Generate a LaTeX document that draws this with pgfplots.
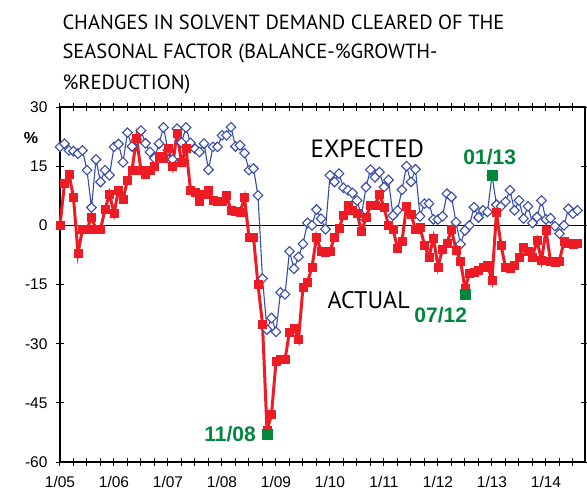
\documentclass[border=0pt]{standalone}
\usepackage{fontspec}
\setmainfont{Liberation Sans}
\newfontfamily\titlefont{PT Sans}
\usepackage{pgfplots}
\pgfplotsset{compat=1.18}
\definecolor{redc}{RGB}{237,28,36}
\definecolor{bluec}{RGB}{55,75,170}
\definecolor{greenc}{RGB}{0,135,60}
\pgfplotstableread{
i v
0 0
1 10.6
2 13
3 7
4 -7
5 -1
6 -1
7 2
8 -1
9 -1
10 4
11 8
12 3
13 9
14 6.5
15 11.5
16 14
17 22
18 14
19 13
20 14
21 15
22 17.5
23 17
24 19.5
25 15
26 23.3
27 16
28 19.5
29 9
30 8.5
31 6
32 8
33 9
34 6.3
35 6
36 6
37 7.6
38 3.8
39 3.5
40 3.3
41 7
42 -3
43 -3
44 -15
45 -25
46 -52
47 -48
48 -34.5
49 -34
50 -34
51 -27
52 -26
53 -29
54 -15.7
55 -14.4
56 -10.6
57 -3
58 -6.5
59 -6.8
60 -6.5
61 -3
62 -0.8
63 2.5
64 5
65 3.8
66 3
67 -1.5
68 2
69 5
70 5
71 8
72 4.5
73 0
74 -1
75 -5.7
76 -4
77 4.8
78 2.8
79 -1
80 -0.5
81 -5
82 -8
83 -3.2
84 -10.6
85 -6
86 -4.5
87 -1
88 -6.3
89 -9
90 -16
91 -12.2
92 -12
93 -11.5
94 -10.5
95 -10
96 -13.9
97 3.3
98 -5
99 -10.6
100 -11
101 -10
102 -8
103 -5.5
104 -6.5
105 -8
106 -3.8
107 -8.9
108 -1.3
109 -9
110 -9.3
111 -9
112 -4
113 -4.6
114 -4.8
115 -4.6
}\actual
\pgfplotstableread{
i v
0 19.9
1 20.7
2 19
3 18.8
4 18.2
5 19
6 14
7 4.5
8 16.7
9 11
10 14
11 12.7
12 19.9
13 20.6
14 16
15 23.5
16 20
17 21.7
18 24
19 20.8
20 18.6
21 17
22 20.7
23 24.8
24 19
25 16.7
26 24.5
27 21
28 24.8
29 20.9
30 19.4
31 18.6
32 20.7
33 14.1
34 19.9
35 19.9
36 22.8
37 22.8
38 24.9
39 20
40 20.3
41 18.3
42 14
43 14.4
44 7.6
45 -13.5
46 -26.4
47 -23.5
48 -27
49 -17
50 -17.5
51 -6.6
52 -11
53 -8
54 -4.7
55 0.6
56 0
57 4
58 1.7
59 -1
60 12.7
61 11
62 13.1
63 9.5
64 8.9
65 8.2
66 6.3
67 2.5
68 9.7
69 14.1
70 12.2
71 13.5
72 9.7
73 11.5
74 2.5
75 3.8
76 9
77 15
78 11
79 14.2
80 2.3
81 5.5
82 5.5
83 1.5
84 1.5
85 2.3
86 8
87 7.2
88 0.8
89 -4.8
90 -1.3
91 0
92 4.6
93 2
94 3.8
95 3.4
96 12.7
97 5.2
98 4.8
99 6
100 8.9
101 3.8
102 6.3
103 1.7
104 4.8
105 0.6
106 2.1
107 6.3
108 1.5
109 1.8
110 -0.2
111 -2.1
112 0
113 4.2
114 3
115 3.8
}\expected
\begin{document}
\begin{tikzpicture}
\useasboundingbox (-60pt,-34pt) rectangle (527pt,462pt);
\begin{axis}[
  scale only axis, width=525pt, height=355pt,
  xmin=0, xmax=116.67, ymin=-60, ymax=30,
  ytick={-60,-45,-30,-15,0,15,30},
  yticklabels={-60,-45,-30,-15,0,15,30},
  xtick={0,12,24,36,48,60,72,84,96,108},
  xticklabels={1/05,1/06,1/07,1/08,1/09,1/10,1/11,1/12,1/13,1/14},
  minor xtick={3,6,9,15,18,21,27,30,33,39,42,45,51,54,57,63,66,69,75,78,81,87,90,93,99,102,105,111,114},
  tick align=center,
  major tick length=8pt, minor tick length=8pt,
  every tick/.style={black, line width=1pt},
  axis line style={line width=1.2pt},
  ticklabel style={font=\fontsize{15.5}{15.5}\selectfont},
  yticklabel style={xshift=-5pt},
  xticklabel style={yshift=-7pt},
  clip=false,
]
\draw[black, line width=1pt] (axis cs:0,0) -- (axis cs:116.67,0);
\addplot[bluec, line width=1.1pt, mark=square*, mark size=3.4pt,
  mark options={fill=white, draw=bluec, line width=1.1pt, rotate=45}] table[x=i,y=v] {\expected};
\addplot[redc, line width=3pt, mark=square*, mark size=4pt,
  mark options={fill=redc, draw=redc, line width=0.5pt}] table[x=i,y=v] {\actual};
\addplot[only marks, mark=square*, mark size=5.2pt, color=greenc,
  mark options={fill=greenc, draw=greenc}] coordinates {(46,-53) (90,-17.5) (96,12.7)};
\node[greenc, font=\bfseries\fontsize{21}{21}\selectfont] at (axis cs:37.8,-53) {11/08};
\node[greenc, font=\bfseries\fontsize{21}{21}\selectfont] at (axis cs:84.6,-22.8) {07/12};
\node[greenc, font=\bfseries\fontsize{21}{21}\selectfont] at (axis cs:95.5,17.2) {01/13};
\node[black, font=\titlefont\fontsize{25}{25}\selectfont] at (axis cs:68.3,19.3) {EXPECTED};
\node[black, font=\titlefont\fontsize{24}{24}\selectfont] at (axis cs:68.6,-19) {ACTUAL};
\end{axis}
\node[font=\bfseries\fontsize{16}{16}\selectfont] at (-29pt,324pt) {\%};
\node[anchor=west, font=\titlefont\fontsize{20.5}{20.5}\selectfont] at (-1pt,440pt) {CHANGES IN SOLVENT DEMAND CLEARED OF THE};
\node[anchor=west, font=\titlefont\fontsize{20.5}{20.5}\selectfont] at (-1pt,409pt) {SEASONAL FACTOR (BALANCE-\%GROWTH-};
\node[anchor=west, font=\titlefont\fontsize{20.5}{20.5}\selectfont] at (-1pt,378pt) {\%REDUCTION)};
\end{tikzpicture}
\end{document}
